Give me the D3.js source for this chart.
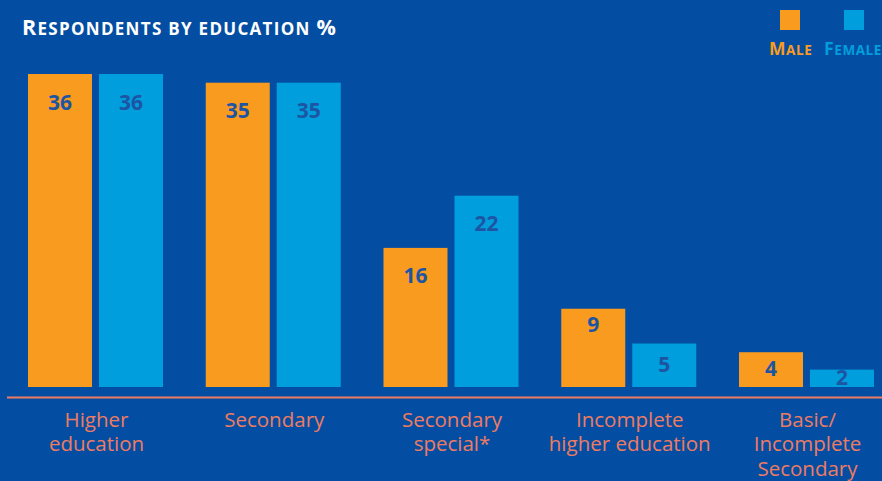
<!DOCTYPE html>
<html>
<head>
<meta charset="utf-8">
<script src="https://cdn.jsdelivr.net/npm/d3@7/dist/d3.min.js"></script>
<style>
  html, body { margin: 0; padding: 0; background: #034ea2; overflow: hidden; }
  svg { display: block; }
</style>
</head>
<body>
<svg id="chart" width="882" height="481"></svg>
<script>
// Education categories (each entry holds the wrapped label lines)
const categories = [
  ["Higher", "education"],
  ["Secondary"],
  ["Secondary", "special*"],
  ["Incomplete", "higher education"],
  ["Basic/", "Incomplete", "Secondary"]
];
const seriesNames = ["Male", "Female"];
const maleValues = [36, 35, 16, 9, 4];
const femaleValues = [36, 35, 22, 5, 2];
const titleText = "Respondents by education %";

const colors = { Male: "#f99b1f", Female: "#019ede" };
const bg = "#034ea2";
const labelInk = "#1d55a3";
const axisInk = "#ee7b62";

const svg = d3.select("#chart");
svg.append("rect").attr("width", 882).attr("height", 481).attr("fill", bg);

const baseline = 387;
const keys = categories.map(c => c.join(" "));

const x0 = d3.scaleBand().domain(keys).range([28, 874]).paddingInner(0.2405).paddingOuter(0);
const x1 = d3.scaleBand().domain(seriesNames).range([0, x0.bandwidth()]).paddingInner(0.0986);
const y = d3.scaleLinear().domain([0, 36]).range([baseline, 74]);

const rows = keys.map((k, i) => ({ key: k, lines: categories[i], Male: maleValues[i], Female: femaleValues[i] }));

// Bars
const groups = svg.append("g").selectAll("g").data(rows).join("g")
  .attr("transform", d => `translate(${x0(d.key)},0)`);

groups.selectAll("rect").data(d => seriesNames.map(s => ({ s, v: d[s] }))).join("rect")
  .attr("x", d => x1(d.s))
  .attr("y", d => y(d.v))
  .attr("width", x1.bandwidth())
  .attr("height", d => baseline - y(d.v))
  .attr("fill", d => colors[d.s]);

// Value labels inside the bars
function labelOffset(h) {
  if (h < 50) return h / 2 - 1;
  if (h < 100) return 16;
  return 28;
}
groups.selectAll("text.val").data(d => seriesNames.map(s => ({ s, v: d[s] }))).join("text")
  .attr("class", "val")
  .attr("x", d => x1(d.s) + x1.bandwidth() / 2)
  .attr("y", d => y(d.v) + labelOffset(baseline - y(d.v)))
  .attr("dy", "0.36em")
  .attr("text-anchor", "middle")
  .attr("font-family", "'Open Sans', sans-serif")
  .attr("font-weight", 700)
  .attr("font-size", 21)
  .attr("fill", labelInk)
  .text(d => d.v);

// Axis line
const xAxis = d3.axisBottom(x0).tickSize(0).tickFormat("");
const axisG = svg.append("g").attr("transform", "translate(0,397.5)").call(xAxis);
axisG.select(".domain").attr("d", "M7,0H882").attr("stroke", axisInk).attr("stroke-width", 2.2);

// Category labels
const catG = svg.append("g");
rows.forEach(r => {
  const cx = x0(r.key) + x0.bandwidth() / 2 + 1;
  const t = catG.append("text")
    .attr("x", cx)
    .attr("y", 426.5)
    .attr("text-anchor", "middle")
    .attr("font-family", "'Open Sans', sans-serif")
    .attr("font-size", 20.5)
    .attr("fill", axisInk);
  r.lines.forEach((ln, j) => {
    t.append("tspan").attr("x", cx).attr("dy", j === 0 ? 0 : 24.8).text(ln);
  });
});

// Small-caps text helper: capitals stay full size, the rest is set in smaller capitals
function smallCaps(sel, text, big, small) {
  const parts = text.match(/([A-Z%]+|[^A-Z%]+)/g);
  parts.forEach(p => {
    const isBig = /^[A-Z%]+$/.test(p);
    sel.append("tspan")
      .attr("font-size", isBig ? big : small)
      .text(isBig ? p : p.toUpperCase());
  });
}

// Title
const title = svg.append("text")
  .attr("x", 22).attr("y", 35)
  .attr("font-family", "'Open Sans', sans-serif")
  .attr("font-weight", 700)
  .attr("letter-spacing", 1.3)
  .attr("fill", "#ffffff");
smallCaps(title, titleText, 21.5, 17);

// Legend
const legend = svg.append("g");
const legendItems = [
  { s: "Male", sx: 780, tx: 769 },
  { s: "Female", sx: 844, tx: 824 }
];
legendItems.forEach(it => {
  legend.append("rect").attr("x", it.sx).attr("y", 10).attr("width", 20).attr("height", 20).attr("fill", colors[it.s]);
  const t = legend.append("text")
    .attr("x", it.tx).attr("y", 55)
    .attr("font-family", "'Open Sans', sans-serif")
    .attr("font-weight", 700)
    .attr("letter-spacing", 0.6)
    .attr("fill", colors[it.s]);
  smallCaps(t, it.s, 17.5, 13.5);
});
</script>
</body>
</html>
